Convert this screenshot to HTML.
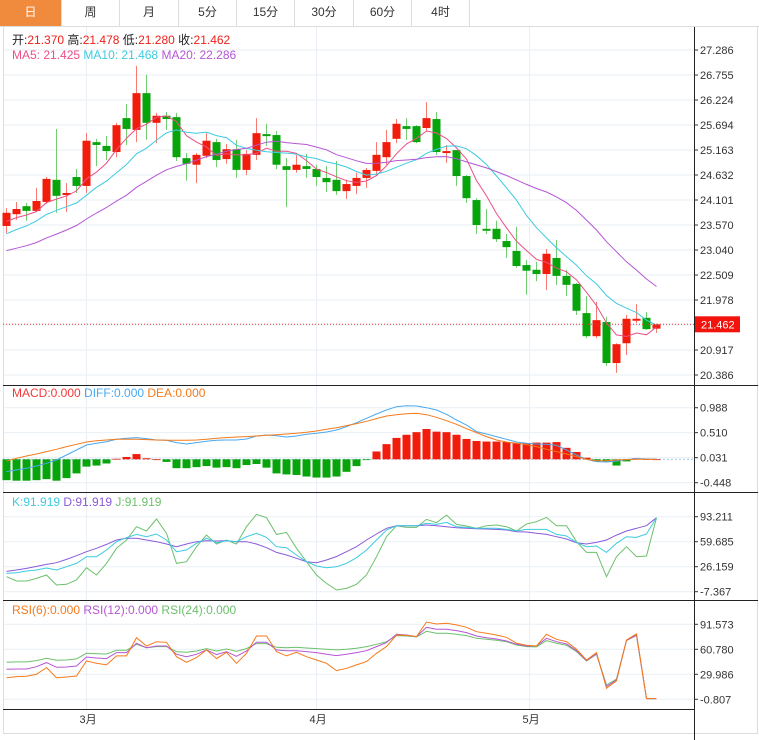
<!DOCTYPE html>
<html><head><meta charset="utf-8">
<style>
body{margin:0;background:#fff;font-family:"Liberation Sans","Noto Sans CJK SC",sans-serif;}
#wrap{position:relative;width:759px;height:740px;overflow:hidden;}
.tabs{position:absolute;left:0;top:0;width:759px;height:26px;border-bottom:1px solid #ddd;}
.tab{position:absolute;top:0;height:26px;line-height:24px;text-align:center;font-size:12px;color:#333;border-right:1px solid #ddd;box-sizing:border-box;}
.tab.on{background:#f08a3c;color:#fff;}
svg text{font-family:"Liberation Sans","Noto Sans CJK SC",sans-serif;}
</style></head><body>
<div id="wrap">
<div class="tabs">
<div class="tab on" style="left:0;width:62px">日</div>
<div class="tab" style="left:62px;width:58px">周</div>
<div class="tab" style="left:120px;width:59px">月</div>
<div class="tab" style="left:179px;width:58px">5分</div>
<div class="tab" style="left:237px;width:58px">15分</div>
<div class="tab" style="left:295px;width:59px">30分</div>
<div class="tab" style="left:354px;width:58px">60分</div>
<div class="tab" style="left:412px;width:58px">4时</div>
</div>
<svg id="svg" width="759" height="740" style="position:absolute;left:0;top:0" xmlns="http://www.w3.org/2000/svg"></svg>
</div>
<script>
// ---- data ----
const opens=[23.55,23.80,23.97,23.87,24.06,24.53,24.23,24.59,24.40,25.33,25.25,25.12,25.84,25.59,26.37,25.74,25.89,25.86,24.99,24.85,25.04,25.33,24.97,25.18,24.74,25.06,25.50,25.48,24.82,24.74,24.82,24.76,24.57,24.53,24.29,24.40,24.57,24.72,25.01,25.40,25.67,25.67,25.63,25.82,25.12,25.16,24.61,24.10,23.49,23.49,23.23,23.02,22.72,22.62,22.53,22.87,22.49,22.32,21.70,21.21,21.51,20.64,21.06,21.55,21.60,21.370];
const highs=[23.93,24.06,24.04,24.36,24.59,25.61,24.46,24.76,25.52,25.40,25.46,25.74,26.14,26.95,26.76,25.95,25.97,25.95,25.10,25.10,25.52,25.40,25.29,25.38,25.16,25.84,25.72,25.57,24.99,25.06,25.08,24.85,24.82,24.93,24.53,24.68,24.78,25.33,25.59,25.82,25.84,25.69,26.18,25.97,25.27,25.16,24.63,24.14,23.91,23.66,23.38,23.53,22.83,22.79,23.06,23.25,22.62,22.34,22.06,21.94,21.62,21.06,21.66,21.89,21.72,21.478];
const lows=[23.40,23.68,23.66,23.85,24.02,23.83,23.85,24.25,24.25,24.82,24.95,25.01,25.27,25.33,25.38,25.31,25.59,24.93,24.51,24.46,24.99,24.80,24.87,24.57,24.63,24.95,25.25,24.76,23.95,24.68,24.57,24.40,24.27,24.21,24.12,24.23,24.36,24.61,24.85,25.31,25.38,25.31,25.55,25.06,24.89,24.40,24.04,23.38,23.38,23.21,22.87,22.66,22.09,22.38,22.19,22.30,22.06,21.66,21.17,21.17,20.58,20.43,20.81,21.49,21.34,21.280];
const closes=[23.83,23.91,23.87,24.08,24.55,24.19,24.25,24.40,25.36,25.27,25.14,25.69,25.61,26.37,25.74,25.89,25.82,25.01,24.87,25.06,25.36,24.95,25.18,24.74,25.08,25.52,25.49,24.85,24.74,24.85,24.76,24.59,24.48,24.29,24.44,24.57,24.74,25.06,25.33,25.72,25.61,25.33,25.84,25.12,25.14,24.61,24.14,23.57,23.48,23.27,23.10,22.70,22.60,22.53,22.96,22.49,22.30,21.75,21.21,21.55,20.64,21.04,21.58,21.58,21.36,21.462];
const priorCloses=[22.9,22.8,22.7,22.6,22.6,22.5,22.5,22.6,22.7,22.8,23.0,23.1,23.0,23.2,23.3,23.5,23.6,23.7,23.6];
const priceTicks=[27.286,26.755,26.224,25.694,25.163,24.632,24.101,23.570,23.040,22.509,21.978,20.917,20.386];
const macdBars=[-0.40,-0.41,-0.41,-0.40,-0.38,-0.41,-0.36,-0.27,-0.14,-0.12,-0.08,0.01,0.045,0.10,0.02,0,-0.05,-0.17,-0.17,-0.15,-0.13,-0.16,-0.15,-0.17,-0.11,-0.09,-0.16,-0.27,-0.29,-0.30,-0.33,-0.35,-0.35,-0.33,-0.24,-0.13,-0.01,0.15,0.29,0.41,0.47,0.52,0.58,0.53,0.52,0.47,0.39,0.35,0.34,0.34,0.33,0.31,0.31,0.32,0.32,0.33,0.22,0.14,0.03,-0.04,-0.04,-0.12,-0.04,0.02,0.005,0];
const diffVals=[-0.236,-0.204,-0.172,-0.128,-0.077,-0.013,0.083,0.179,0.274,0.306,0.338,0.383,0.402,0.415,0.396,0.370,0.364,0.319,0.294,0.319,0.345,0.364,0.370,0.370,0.389,0.447,0.466,0.453,0.428,0.447,0.479,0.498,0.523,0.562,0.625,0.702,0.785,0.868,0.944,1.008,1.027,1.021,0.989,0.944,0.862,0.753,0.657,0.530,0.485,0.434,0.383,0.332,0.306,0.294,0.287,0.268,0.179,0.083,0,-0.045,-0.051,-0.032,-0.006,0.013,0.006,0];
const deaVals=[-0.032,0.019,0.064,0.102,0.147,0.191,0.243,0.287,0.332,0.357,0.370,0.383,0.383,0.383,0.377,0.370,0.364,0.364,0.364,0.370,0.383,0.402,0.415,0.428,0.434,0.447,0.459,0.472,0.485,0.498,0.517,0.542,0.574,0.606,0.645,0.683,0.728,0.779,0.830,0.855,0.874,0.881,0.855,0.804,0.740,0.670,0.587,0.511,0.434,0.370,0.332,0.306,0.281,0.243,0.191,0.147,0.102,0.051,0,-0.026,-0.026,-0.013,-0.006,0,0,0];
const macdTicks=[0.988,0.510,0.031,-0.448];
const kVals=[17.2,18.1,20.4,21.7,24.4,21.7,26.2,30.6,39.6,39.6,48.5,59.7,65.1,69.5,66.4,70.0,61.9,46.3,48.5,57.5,64.2,58.3,61.0,59.7,66.4,70.9,65.5,53.0,51.6,41.8,32.9,27.1,24.8,26.0,30.6,38.2,48.5,61.9,75.4,81.2,81.2,81.2,84.3,82.9,85.6,79.8,78.9,77.6,77.6,77.6,76.2,74.0,76.2,76.2,76.2,69.5,67.3,58.8,53.0,53.9,45.4,57.5,66.4,65.5,70.0,91.919];
const dVals=[19.9,21.7,23.9,26.6,29.3,31.5,36.0,40.9,46.3,50.8,56.1,61.9,64.2,64.2,61.9,59.7,56.6,53.0,56.6,59.7,61.0,60.6,61.0,59.7,59.7,56.6,51.6,45.4,41.8,37.4,32.9,31.5,35.1,39.9,46.3,53.0,61.9,70.0,77.6,81.2,81.2,81.2,82.1,81.2,79.8,78.5,77.6,77.1,76.7,76.2,75.4,73.1,72.7,70.9,69.5,66.4,63.3,58.3,56.6,58.8,61.9,68.6,74.0,77.6,81.2,91.919];
const jVals=[12.8,7.0,7.0,10.5,15.0,1.6,2.5,8.3,24.8,15.0,30.6,50.8,61.9,79.8,74.0,90.1,70.9,30.6,32.9,53.0,68.6,56.6,61.9,56.6,79.8,96.3,91.9,69.5,72.2,50.8,32.9,15.0,3.8,-5.1,-2.9,2.5,15.0,39.6,66.4,81.2,78.9,78.9,89.6,85.2,95.4,82.9,80.7,77.6,81.2,82.1,79.8,74.0,83.4,86.5,92.3,81.2,81.2,59.7,45.4,45.4,12.8,39.6,53.0,39.6,40.5,91.919];
const kdjTicks=[93.211,59.685,26.159,-7.367];
const rsi6=[25.8,27.1,27.5,30.0,38.2,25.8,26.7,27.9,46.4,43.5,41.5,52.6,52.6,75.1,64.9,70.2,69.4,51.7,44.8,50.5,60.0,49.3,57.1,43.5,55.9,77.2,77.2,57.9,52.6,57.1,51.7,47.6,43.5,34.5,37.4,41.5,45.6,55.9,64.1,78.4,78.0,76.4,94.4,92.0,92.8,90.8,87.9,82.5,80.5,78.4,75.6,68.2,65.7,64.9,79.2,73.1,70.2,60.8,47.6,56.7,12.7,21.7,72.3,79.7,0,0];
const rsi12=[36.1,36.5,36.5,39.4,44.4,38.6,39.0,40.2,51.3,50.1,49.3,56.7,56.7,68.2,62.8,64.9,64.9,54.6,51.7,54.6,60.0,54.2,57.9,52.2,58.7,69.4,69.4,60.0,59.1,59.1,57.9,56.7,54.6,53.0,54.6,56.7,59.1,64.1,69.0,79.2,78.4,76.4,87.9,85.4,85.4,83.8,81.3,77.2,75.1,73.5,71.0,66.9,64.9,64.9,74.3,70.2,67.3,59.1,46.8,55.4,14.8,23.0,71.9,78.4,0,0];
const rsi24=[44.8,45.2,45.2,46.8,49.7,47.2,47.6,48.9,55.9,55.4,55.0,59.5,59.5,66.9,62.8,64.1,64.1,57.9,57.1,58.7,61.6,58.7,61.2,58.3,61.6,67.8,67.8,63.2,62.8,63.2,62.4,61.6,60.8,60.0,60.8,62.0,64.1,66.9,70.2,77.6,77.2,76.0,83.0,80.5,80.5,79.2,77.6,74.3,73.1,71.9,70.2,66.1,64.1,63.7,71.5,68.2,65.7,57.9,46.4,54.6,16.8,24.2,71.5,77.6,0,0];
const rsiTicks=[91.573,60.780,29.986,-0.807];
const monthLabels=['3月','4月','5月'];
const monthIdx=[8,31,52.3];

// ---- scales ----
const X=i=>6.5+10*i;
const yP=v=>50+(27.286-v)*47.1;
const yM=v=>459.3-v*52.2;
const yK=v=>516.7+(93.211-v)*0.7457;
const yR=v=>624.3+(91.573-v)*0.8118;

const svg=document.getElementById('svg');
const NS='http://www.w3.org/2000/svg';
function mk(tag,attrs,parent){const e=document.createElementNS(NS,tag);for(const k in attrs)e.setAttribute(k,attrs[k]);(parent||svg).appendChild(e);return e;}
function txt(x,y,s,fill,size,parent){const t=mk('text',{x:x,y:y,fill:fill,'font-size':size||11},parent);t.textContent=s;return t;}

// grid
const grid=mk('g',{});


function hline(y){mk('line',{x1:3,x2:694,y1:y,y2:y,stroke:'#e9eff5','stroke-width':1},grid);}
priceTicks.forEach(v=>hline(yP(v)));
hline(yP(21.45));
macdTicks.forEach(v=>hline(yM(v)));
kdjTicks.forEach(v=>hline(yK(v)));
rsiTicks.forEach(v=>hline(yR(v)));
monthIdx.forEach(i=>mk('line',{x1:X(i),x2:X(i),y1:27,y2:709,stroke:'#e9eff5'},grid));

// frame
const fr=mk('g',{});


mk('line',{x1:3.5,x2:3.5,y1:27,y2:733,stroke:'#ddd'},fr);
mk('line',{x1:757.5,x2:757.5,y1:27,y2:733,stroke:'#ddd'},fr);
mk('line',{x1:3,x2:758,y1:733.5,y2:733.5,stroke:'#ddd'},fr);
[385.5,492.5,600.5].forEach(y=>mk('line',{x1:3,x2:758,y1:y,y2:y,stroke:'#222'},fr));
mk('line',{x1:3,x2:694,y1:709.5,y2:709.5,stroke:'#222'},fr);
mk('line',{x1:694.5,x2:694.5,y1:27,y2:740,stroke:'#222'},fr);

// axis labels
const ax=mk('g',{});


function tick(y,v){mk('line',{x1:694,x2:698,y1:y,y2:y,stroke:'#333'},ax);txt(700,y+4,v.toFixed(3),'#333',11,ax);}
priceTicks.forEach(v=>tick(yP(v),v));
macdTicks.forEach(v=>tick(yM(v),v));
kdjTicks.forEach(v=>tick(yK(v),v));
rsiTicks.forEach(v=>tick(yR(v),v));
monthLabels.forEach((m,k)=>{const t=txt(X(monthIdx[k])-7,723,m,'#333',11);

});

// candles
const cg=mk('g',{});


closes.forEach((c,i)=>{
 const o=opens[i],up=c>=o,col=up?'#f21c0c':'#08a40c',wk=up?'#f87a70':'#72cc72';
 const x=X(i);
 const w=mk('line',{x1:x,x2:x,y1:yP(highs[i]),y2:yP(lows[i]),stroke:wk,'stroke-width':1},cg);
 const t=Math.min(yP(o),yP(c)),h=Math.max(2,Math.abs(yP(o)-yP(c)));
 const r=mk('rect',{x:x-4,y:t,width:8,height:h,fill:col},cg);
 
 
});
// MAs
const all=priorCloses.concat(closes),off=priorCloses.length;
function ma(n){return closes.map((_,i)=>{let s=0;for(let k=0;k<n;k++)s+=all[off+i-k];return s/n;});}
function poly(vals,yf,color,name,w){
 const p=mk('polyline',{points:vals.map((v,i)=>X(i)+','+yf(v).toFixed(1)).join(' '),fill:'none',stroke:color,'stroke-width':w||1});
 
 
}
poly(ma(5),yP,'#ec4f86','ma5-line');
poly(ma(10),yP,'#3ccbe0','ma10-line');
poly(ma(20),yP,'#b556d4','ma20-line');

// last price line
mk('line',{x1:3,x2:694,y1:yP(closes[65]),y2:yP(closes[65]),stroke:'#f03030','stroke-dasharray':'1,2'});
const pb=mk('rect',{x:695,y:yP(closes[65])-8,width:45,height:16,fill:'#f2140c'});


txt(701,yP(closes[65])+4,closes[65].toFixed(3),'#fff',11);

// MACD
mk('line',{x1:3,x2:694,y1:yM(0),y2:yM(0),stroke:'#9cc8e8','stroke-dasharray':'2,2'});
const mg=mk('g',{});


macdBars.forEach((v,i)=>{
 const y0=yM(0),y1=yM(v);
 const r=mk('rect',{x:X(i)-4,y:Math.min(y0,y1),width:8,height:Math.max(0.8,Math.abs(y1-y0)),fill:v>=0?'#f21c0c':'#08a40c'},mg);
 
 
});
poly(diffVals,yM,'#4aa8f0','diff-line');
poly(deaVals,yM,'#f57a1a','dea-line');

// KDJ
poly(jVals,yK,'#6cc06c','j-line');
poly(dVals,yK,'#8a5ad8','d-line');
poly(kVals,yK,'#3ccbe0','k-line');
// RSI
poly(rsi24,yR,'#6cc06c','rsi24-line');
poly(rsi12,yR,'#b556d4','rsi12-line');
poly(rsi6,yR,'#f57a1a','rsi6-line');

// legends
function legend(y,items,name){
 const g=mk('g',{});
 
 
 const t=mk('text',{x:12,y:y,'font-size':12},g);
 items.forEach(([s,c])=>{const ts=mk('tspan',{fill:c},t);ts.textContent=s;});
}
legend(44,[['开:','#222'],['21.370   ','#f0201a'],['高:','#222'],['21.478   ','#f0201a'],['低:','#222'],['21.280   ','#f0201a'],['收:','#222'],['21.462','#f0201a']],'ohlc-legend');
legend(59,[['MA5: 21.425   ','#ec4f86'],['MA10: 21.468   ','#3ccbe0'],['MA20: 22.286','#b556d4']],'ma-legend');
legend(397,[['MACD:0.000   ','#f03a3a'],['DIFF:0.000   ','#4aa8f0'],['DEA:0.000','#f57a1a']],'macd-legend');
legend(506,[['K:91.919   ','#3ccbe0'],['D:91.919   ','#8a5ad8'],['J:91.919','#6cc06c']],'kdj-legend');
legend(614,[['RSI(6):0.000   ','#f57a1a'],['RSI(12):0.000   ','#b556d4'],['RSI(24):0.000','#6cc06c']],'rsi-legend');
document.querySelectorAll('text').forEach(t=>t.setAttribute('xml:space','preserve'));
</script>
</body></html>
